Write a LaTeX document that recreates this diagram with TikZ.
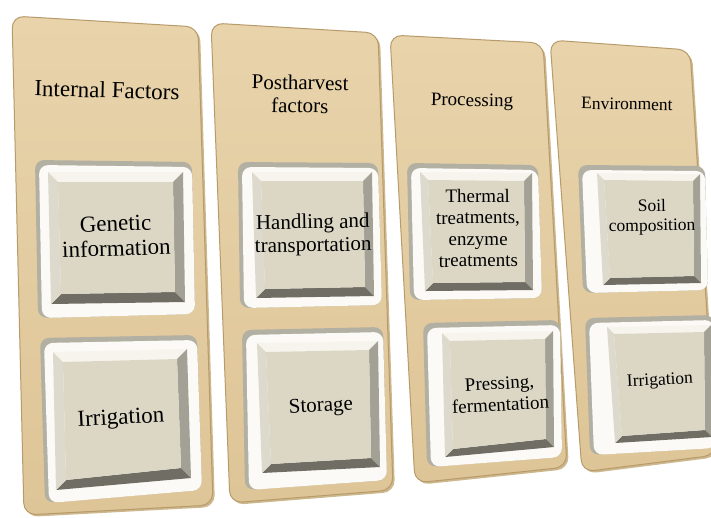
\documentclass[tikz,border=0pt]{standalone}
\usepackage{fontspec}
\setmainfont{Liberation Serif}
\usetikzlibrary{calc}
\definecolor{coltop}{HTML}{E8D3AB}
\definecolor{colbot}{HTML}{DEC597}
\definecolor{coledge}{HTML}{B79B6A}
\definecolor{colshadow}{HTML}{CDB88E}
\definecolor{frameshadow}{HTML}{B2AFA3}
\definecolor{framewhite}{HTML}{FBFAF6}
\definecolor{bevtop}{HTML}{F6F4EC}
\definecolor{bevleft}{HTML}{DDDACD}
\definecolor{bevright}{HTML}{A3A196}
\definecolor{bevbot}{HTML}{6F6D64}
\definecolor{facecol}{HTML}{DCD7C5}
\newcommand\fsA{\fontsize{23}{25}\selectfont}
\newcommand\fsB{\fontsize{21}{23}\selectfont}
\newcommand\fsC{\fontsize{19}{21.5}\selectfont}
\newcommand\fsD{\fontsize{17.5}{19.5}\selectfont}
\newcommand\drawcol[4]{%
  \fill[colshadow, rounded corners=12] ($(#1)+(2,2)$) -- ($(#2)+(2,2)$) -- ($(#3)+(2,2)$) -- ($(#4)+(2,2)$) -- cycle;
  \shade[top color=coltop, bottom color=colbot, draw=coledge, line width=1, rounded corners=12] (#1) -- (#2) -- (#3) -- (#4) -- cycle;
}
\newcommand\keybox[9]{%
  \fill[frameshadow, rounded corners=9] (#2) -- (#3) -- (#4) -- (#5) -- cycle;
  \fill[framewhite, rounded corners=9] ($(#2)+(4,5)$) -- ($(#3)+(0,5)$) -- (#4) -- ($(#5)+(4,0)$) -- cycle;
  \coordinate (i1) at ($(#6)+(#1,#1)$);
  \coordinate (i2) at ($(#7)+(-#1,#1)$);
  \coordinate (i3) at ($(#8)+(-#1,-#1)$);
  \coordinate (i4) at ($(#9)+(#1,-#1)$);
  \fill[bevtop] (#6) -- (#7) -- (i2) -- (i1) -- cycle;
  \fill[bevright] (#7) -- (#8) -- (i3) -- (i2) -- cycle;
  \fill[bevbot] (#9) -- (#8) -- (i3) -- (i4) -- cycle;
  \fill[bevleft] (#6) -- (#9) -- (i4) -- (i1) -- cycle;
  \fill[facecol] (i1) -- (i2) -- (i3) -- (i4) -- cycle;
}
\tikzset{lbl/.style={align=center, text=black, inner sep=0pt}}
\begin{document}
\begin{tikzpicture}[x=1pt, y=-1pt]
\useasboundingbox (0,0) rectangle (711,517);
\fill[white] (0,0) rectangle (711,517);
% columns
\drawcol{12,16}{198,27}{213,505}{24,515}
\drawcol{211,23}{378,33}{393,490}{230,503}
\drawcol{390,35}{543,43}{567,467}{415,483}
\drawcol{550,40}{690,50}{716,455}{582,472}
% boxes
\keybox{10}{35,160}{192,162}{195,314}{38,318}{48,172}{183,172}{185,302}{51,304}
\keybox{10}{40,338}{197,335}{202,490}{45,503}{53,352}{187,349}{191,478}{56,490}
\keybox{9}{238,162}{378,163}{382,305}{240,308}{252,172}{372,172}{374,296}{256,298}
\keybox{9}{242,330}{383,327}{387,480}{245,490}{257,343}{378,341}{380,467}{262,473}
\keybox{8}{407,163}{538,165}{542,298}{410,300}{420,172}{532,173}{533,290}{425,291}
\keybox{8}{423,323}{560,320}{562,457}{427,467}{442,333}{553,331}{554,447}{445,457}
\keybox{7}{578,165}{705,166}{708,290}{583,293}{597,173}{700,174}{701,283}{603,285}
\keybox{7}{585,318}{714,315}{716,448}{590,455}{607,327}{711,325}{712,437}{615,443}
% texts
\node[lbl, font=\fsA, rotate=-1.5] (h1) at (107,90) {Internal Factors};
\node[lbl, font=\fsA, rotate=2] (t1a) at (116,236) {Genetic\\information};
\node[lbl, font=\fsA, rotate=3] (t1b) at (121,419) {Irrigation};
\node[lbl, font=\fsB, rotate=-1] (h2) at (300,94) {Postharvest\\factors};
\node[lbl, font=\fsB, rotate=1] (t2a) at (313,235) {Handling and\\transportation};
\node[lbl, font=\fsB, rotate=3] (t2b) at (321,407) {Storage};
\node[lbl, font=\fsC, rotate=-1] (h3) at (472,102) {Processing};
\node[lbl, font=\fsC, rotate=0.5] (t3a) at (478,228) {Thermal\\treatments,\\enzyme\\treatments};
\node[lbl, font=\fsC, rotate=3] (t3b) at (500,394) {Pressing,\\fermentation};
\node[lbl, font=\fsD, rotate=-1] (h4) at (627,104) {Environment};
\node[lbl, font=\fsD, rotate=0.5] (t4a) at (652,217) {Soil\\composition};
\node[lbl, font=\fsD, rotate=3] (t4b) at (660,381) {Irrigation};
\end{tikzpicture}
\end{document}
